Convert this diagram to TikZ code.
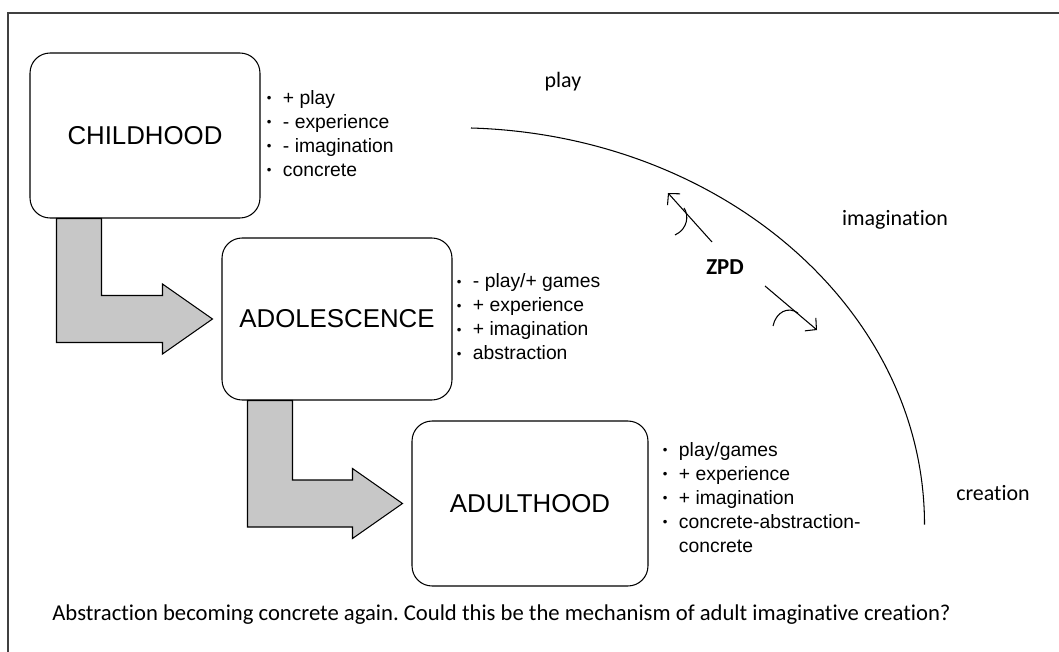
\documentclass[tikz,border=0pt]{standalone}
\usepackage{fontspec}
\setmainfont{Liberation Sans}
\newfontfamily\calib[Ligatures=NoCommon]{Carlito}
\usetikzlibrary{calc,positioning,arrows.meta}
\frenchspacing
\tikzset{
  stage/.style={draw, rounded corners=4mm, line width=0.6pt, minimum width=46mm, minimum height=33mm,
    font=\fontsize{14.7}{17}\selectfont},
  points/.style={inner sep=0pt, font=\fontsize{11}{13.7}\selectfont},
  blockarrow/.style={draw, fill=black!22, line width=0.6pt},
  word/.style={inner sep=0pt, font=\calib\fontsize{12.5}{15}\selectfont},
  zpdarrow/.style={-{Straight Barb[length=1.6mm,width=3.4mm]}, line width=0.6pt},
}
\newcommand\bul{\raisebox{0.15ex}{\fontsize{7.5}{7.5}\selectfont\textbullet}}
\newcommand\pts[1]{\begin{tabular}{@{}l@{\hspace{2.3mm}}l@{}}#1\end{tabular}}
\begin{document}
\begin{tikzpicture}[x=0.02cm, y=-0.02cm]
\useasboundingbox (0,0) rectangle (1059,652);
\draw[line width=0.7pt, black!75] (8,652) -- (8,13) -- (1059,13);

\node[stage] (child) at (145,135.5) {CHILDHOOD};
\node[stage, minimum height=32.4mm] (adol) at (337,319) {ADOLESCENCE};
\node[stage, minimum width=47.2mm] (adult) at (530,503.5) {ADULTHOOD};

\node[points, right=1.2mm of child] (childpts) {\pts{\bul & + play\\ \bul & - experience\\ \bul & - imagination\\ \bul & concrete}};
\node[points, right=0.8mm of adol] (adolpts) {\pts{\bul & - play/+ games\\ \bul & + experience\\ \bul & + imagination\\ \bul & abstraction}};
\node[points, right=2.8mm of adult, yshift=0.8mm] (adultpts) {\pts{\bul & play/games\\ \bul & + experience\\ \bul & + imagination\\ \bul & concrete-abstraction-\\ & concrete}};

\draw[blockarrow] ($(child.south west)+(27,0)$) -- ++(45,0) |- ($(adol.west)+(-59,-23.5)$) -- ++(0,-11.5)
  -- ($(adol.west)+(-9,0)$) -- ++(-50,35) -- ++(0,-11.5) -| ($(child.south west)+(27,0)$) -- cycle;
\draw[blockarrow] ($(adol.south west)+(26,0)$) -- ++(45,0) |- ($(adult.west)+(-59,-23.5)$) -- ++(0,-11.5)
  -- ($(adult.west)+(-9,0)$) -- ++(-50,35) -- ++(0,-11.5) -| ($(adol.south west)+(26,0)$) -- cycle;

\coordinate (arcstart) at (471,128);
\draw[line width=0.6pt] (arcstart) arc[start angle=88, end angle=0, x radius=94mm, y radius=79.4mm];

\node[word] (play) at (563,82) {play};
\node[word] (imag) at (895,220) {imagination};
\node[word] (creat) at (993,493) {creation};
\node[word, font=\calib\bfseries\fontsize{13}{15}\selectfont] (zpd) at (725,267) {ZPD};

\coordinate (zu1) at (712,242);
\coordinate (zu2) at (668,193);
\coordinate (zd1) at (765,286);
\coordinate (zd2) at (817,330);
\draw[zpdarrow] (zu1) -- (zu2);
\draw[zpdarrow] (zd1) -- (zd2);
\draw[line width=0.6pt] (675,235) .. controls (688,229) and (689,215) .. (684,208);
\draw[line width=0.6pt] (773,326) .. controls (776,312) and (788,306) .. (798,313);

\node[word, anchor=west, font=\calib\fontsize{12.9}{15}\selectfont] (caption) at (52,615) {Abstraction becoming concrete again. Could this be the mechanism of adult imaginative creation?};
\end{tikzpicture}
\end{document}
